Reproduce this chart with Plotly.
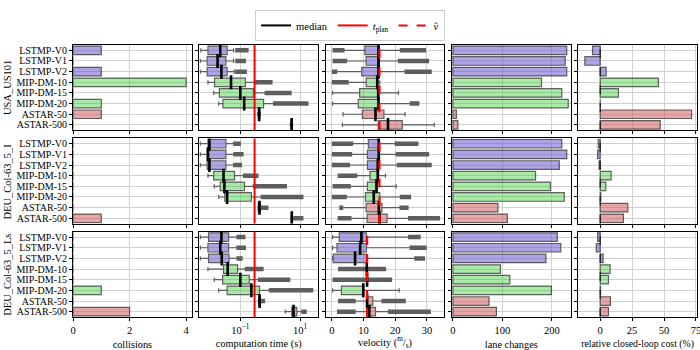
import plotly.graph_objects as go
from plotly.subplots import make_subplots

CATS = ["LSTMP-V0", "LSTMP-V1", "LSTMP-V2", "MIP-DM-10", "MIP-DM-15",
        "MIP-DM-20", "ASTAR-50", "ASTAR-500"]
SCENARIOS = ["USA_US101", "DEU_Col-63_5_I", "DEU_Col-63_5_Ls"]
GROUPS = [[0, 1, 2], [3, 4, 5], [6, 7]]

FILL = ["rgba(106,90,205,0.55)", "rgba(50,205,50,0.42)", "rgba(205,92,92,0.55)"]
EDGE = "rgba(50,50,50,0.75)"
GRAY = "#5e5e5e"

# bar metrics, one list per scenario
COLLISIONS = [
    [1, 0, 1, 4, 0, 1, 1, 0],
    [0, 0, 0, 0, 0, 0, 0, 1],
    [0, 0, 0, 0, 0, 1, 0, 2],
]
LANE_CHANGES = [
    [230, 227, 230, 179, 220, 233, 7, 10],
    [220, 230, 215, 167, 197, 225, 91, 110],
    [211, 218, 188, 96, 115, 199, 73, 88],
]
COST = [
    [-6, -12, 4.7, 45.6, 14.3, 0, 71.6, 47],
    [-1.5, -2, -0.8, 8.6, 4.4, 0.5, 21.6, 18.2],
    [-2, -3, 2.3, 7.8, 6.5, 0.3, 8, 6.5],
]

# computation time (s): box statistics
CT_LO = [
    [0.0048, 0.0046, 0.0046, 0.0083, 0.0129, 0.019, 0.38, 4.7],
    [0.0046, 0.0046, 0.0046, 0.0083, 0.0135, 0.019, 0.39, 5.0],
    [0.0046, 0.0046, 0.0046, 0.0083, 0.0135, 0.019, 0.40, 3.16],
]
CT_Q1 = [
    [0.0083, 0.0078, 0.0078, 0.0138, 0.020, 0.0263, 0.40, 5.0],
    [0.0083, 0.0078, 0.0078, 0.0129, 0.0214, 0.0302, 0.40, 5.1],
    [0.0087, 0.0083, 0.0087, 0.0275, 0.0257, 0.0363, 0.42, 5.25],
]
CT_MED = [
    [0.0214, 0.0174, 0.0234, 0.049, 0.10, 0.135, 0.427, 5.2],
    [0.0093, 0.0083, 0.0093, 0.0275, 0.0295, 0.0363, 0.437, 5.25],
    [0.0234, 0.0214, 0.024, 0.038, 0.10, 0.234, 0.44, 6.0],
]
CT_Q3 = [
    [0.0363, 0.0331, 0.0363, 0.148, 0.275, 0.60, 0.45, 5.3],
    [0.0331, 0.0331, 0.0331, 0.0646, 0.138, 0.234, 0.46, 5.5],
    [0.0407, 0.0407, 0.042, 0.0813, 0.20, 0.437, 0.47, 7.76],
]
CT_HI = [
    [0.060, 0.060, 0.063, 0.316, 0.676, 1.29, 0.468, 5.4],
    [0.060, 0.060, 0.060, 0.129, 0.275, 0.50, 0.47, 5.9],
    [0.0776, 0.0776, 0.0776, 0.148, 0.407, 0.93, 0.50, 11.5],
]
# spread of the (dense) outliers above the upper whisker
CT_OUT = [
    [(0.068, 0.19), (0.068, 0.155), (0.068, 0.166), (0.32, 1.2), (0.68, 5.2),
     (1.3, 19), None, None],
    [(0.062, 0.105), (0.062, 0.129), (0.062, 0.115), (0.13, 0.407), (0.28, 3.63),
     (0.5, 12.9), (0.47, 0.87), (5.9, 12.9)],
    [(0.078, 0.148), (0.078, 0.155), (0.078, 0.12), (0.15, 0.6), (0.41, 4.68),
     (0.95, 27.5), (0.5, 0.676), (11.5, 16.6)],
]
T_PLAN = 0.3

# velocity (m/s): box statistics
V_LO = [
    [3.8, 4.6, 1.5, 5.1, 0.2, 0.2, 3.5, 3.3],
    [6.5, 6.2, 5.5, 7.8, 5.8, 4.5, 3.4, 6.0],
    [0.2, 0.2, 0.2, 11.0, 11.1, 0.2, 7.3, 7.3],
]
V_Q1 = [
    [10.4, 10.8, 9.4, 10.8, 8.75, 8.3, 9.6, 14.6],
    [11.5, 11.2, 11.2, 12.0, 11.2, 10.6, 10.8, 11.1],
    [2.3, 1.6, 0.4, 11.0, 11.1, 3.0, 10.9, 11.5],
]
V_MED = [
    [14.7, 14.7, 14.7, 14.3, 14.6, 14.7, 13.75, 17.7],
    [14.8, 14.8, 14.5, 14.5, 14.06, 13.2, 14.8, 15.0],
    [9.3, 8.9, 7.3, 11.0, 11.1, 9.9, 11.1, 11.8],
]
V_Q3 = [
    [14.9, 14.9, 14.9, 14.5, 14.8, 14.8, 16.4, 22.2],
    [14.9, 14.9, 14.6, 14.6, 14.3, 15.1, 15.8, 17.4],
    [10.9, 10.9, 10.9, 11.0, 11.1, 10.0, 12.9, 13.75],
]
V_HI = [
    [21.6, 21.0, 23.1, 15.1, 21.0, 24.7, 23.1, 32.3],
    [20.0, 20.3, 20.6, 16.9, 20.3, 21.6, 21.5, 24.2],
    [24.2, 24.7, 26.2, 11.0, 11.1, 21.25, 15.8, 17.9],
]
V_OUT_LOW = [
    [(0.2, 3.8), (0.2, 4.6), (0.0, 1.5), (0.0, 5.1), None, None, None, None],
    [(0.0, 6.5), (0.0, 6.2), (0.0, 5.5), (1.8, 7.8), (0.2, 5.8), (0.0, 4.5),
     (2.3, 3.4), (1.8, 6.0)],
    [None, None, None, (1.9, 11.0), (0.2, 11.1), None, (1.9, 7.3), (1.6, 7.3)],
]
V_OUT_HIGH = [
    [(21.6, 29.7), (21.0, 30.7), (23.1, 31.5), None, None, (24.7, 27.6), None, None],
    [(20.0, 27.3), (20.3, 30.7), (20.6, 31.5), None, None, (21.6, 25.0),
     (21.5, 24.2), (24.2, 34.1)],
    [(24.2, 28.0), (24.7, 29.9), (26.2, 29.4), (11.0, 17.1), (11.1, 19.0), None,
     (15.8, 23.3), (17.9, 31.2)],
]
V_HAT = [15.0, 15.0, 11.1]

FONT = "Liberation Serif, DejaVu Serif, serif"

fig = make_subplots(rows=3, cols=5, horizontal_spacing=0.012, vertical_spacing=0.03)


def add_bars(values, row, col):
    for g, idx in enumerate(GROUPS):
        fig.add_trace(go.Bar(
            x=[values[i] for i in idx],
            y=[CATS[i] for i in idx],
            orientation="h",
            width=0.8,
            marker=dict(color=FILL[g], line=dict(color=EDGE, width=1.2)),
            showlegend=False,
            hoverinfo="skip",
        ), row=row, col=col)


def add_boxes(lo, q1, med, q3, hi, outs, row, col):
    for g, idx in enumerate(GROUPS):
        fig.add_trace(go.Box(
            y=[CATS[i] for i in idx],
            lowerfence=[lo[i] for i in idx],
            q1=[q1[i] for i in idx],
            median=[med[i] for i in idx],
            q3=[q3[i] for i in idx],
            upperfence=[hi[i] for i in idx],
            orientation="h",
            width=0.8,
            whiskerwidth=0.5,
            boxpoints=False,
            fillcolor=FILL[g],
            line=dict(color=GRAY, width=1.2),
            showlegend=False,
            hoverinfo="skip",
        ), row=row, col=col)
    xs, ys = [], []
    for out in outs:
        for i, seg in enumerate(out):
            if seg is None:
                continue
            xs += [seg[0], seg[1], None]
            ys += [CATS[i], CATS[i], None]
    fig.add_trace(go.Scatter(
        x=xs, y=ys, mode="lines",
        line=dict(color=GRAY, width=4.5),
        showlegend=False, hoverinfo="skip",
    ), row=row, col=col)
    fig.add_trace(go.Scatter(
        x=med, y=CATS, mode="markers",
        marker=dict(symbol="line-ns", size=10, line=dict(color="black", width=2.6)),
        showlegend=False, hoverinfo="skip",
    ), row=row, col=col)


for r in range(3):
    row = r + 1
    add_bars(COLLISIONS[r], row, 1)
    add_boxes(CT_LO[r], CT_Q1[r], CT_MED[r], CT_Q3[r], CT_HI[r], [CT_OUT[r]], row, 2)
    add_boxes(V_LO[r], V_Q1[r], V_MED[r], V_Q3[r], V_HI[r],
              [V_OUT_LOW[r], V_OUT_HIGH[r]], row, 3)
    add_bars(LANE_CHANGES[r], row, 4)
    add_bars(COST[r], row, 5)

    fig.add_vline(x=T_PLAN, line=dict(color="red", width=2), row=row, col=2)
    fig.add_vline(x=V_HAT[r], line=dict(color="red", width=2.2, dash="dash"), row=row, col=3)
    fig.add_vline(x=0, line=dict(color="black", width=1, dash="dash"), row=row, col=5)

# legend entries
fig.add_trace(go.Scatter(x=[None], y=[None], mode="lines", name="median",
                         line=dict(color="black", width=2)), row=1, col=1)
fig.add_trace(go.Scatter(x=[None], y=[None], mode="lines",
                         name="<i>t</i><sub>plan</sub>",
                         line=dict(color="red", width=2)), row=1, col=1)
fig.add_trace(go.Scatter(x=[None], y=[None], mode="lines", name="<i>v̂</i>",
                         line=dict(color="red", width=2, dash="dash")), row=1, col=1)

X_TITLES = ["collisions", "computation time (s)",
            "velocity (<sup>m</sup>/<sub>s</sub>)", "lane changes",
            "relative closed-loop cost (%)"]
X_RANGES = [[0, 4.2], [-2.37, 1.6], [-2, 35.5], [-2, 238], [-17.2, 75.8]]
X_TICKS = [[0, 2, 4], [0.1, 10], [0, 10, 20, 30], [0, 100, 200], [0, 25, 50, 75]]

axis_common = dict(showline=True, linecolor="black", linewidth=1, mirror=True,
                   ticks="outside", ticklen=3, tickcolor="black", automargin=False,
                   showgrid=True, gridcolor="#d0d0d0", gridwidth=1, zeroline=False)

for r in range(3):
    for c in range(5):
        row, col = r + 1, c + 1
        xkw = dict(axis_common, range=X_RANGES[c], tickvals=X_TICKS[c],
                   showticklabels=(row == 3), tickfont=dict(size=10.5),
                   ticklabeloverflow="allow")
        if c == 1:
            xkw.update(type="log", ticktext=["10<sup>−1</sup>", "10<sup>1</sup>"])
        if row == 3:
            size = 9.8 if c == 4 else 10.3
            xkw.update(title=dict(text=X_TITLES[c], standoff=6, font=dict(size=size)))
        fig.update_xaxes(row=row, col=col, **xkw)
        fig.update_yaxes(row=row, col=col, type="category", categoryorder="array",
                         categoryarray=CATS, range=[7.5, -0.5],
                         tickmode="array", tickvals=CATS, tickfont=dict(size=10),
                         showticklabels=(col == 1), **axis_common)

for r, name in enumerate(SCENARIOS):
    yd = fig.layout[f"yaxis{r * 5 + 1}"].domain
    fig.add_annotation(text=name, textangle=-90, x=-0.105, xref="paper",
                       xanchor="center", yanchor="middle",
                       y=(yd[0] + yd[1]) / 2, yref="paper", showarrow=False,
                       font=dict(size=10.5))

fig.update_layout(
    width=700, height=350,
    margin=dict(l=73, r=3, t=45, b=33),
    plot_bgcolor="white", paper_bgcolor="white",
    font=dict(family=FONT, size=11, color="black"),
    barmode="overlay", boxmode="overlay",
    legend=dict(orientation="h", x=0.444, xanchor="center", y=1.015, yanchor="bottom",
                bordercolor="#cccccc", borderwidth=1, font=dict(size=10.5),
                itemwidth=30, tracegroupgap=0),
)

# drop the default page margin so the figure sits at the window's corner
fig.write_html("out.html", config={"displayModeBar": False},
               post_script="document.body.style.margin = '0';")
